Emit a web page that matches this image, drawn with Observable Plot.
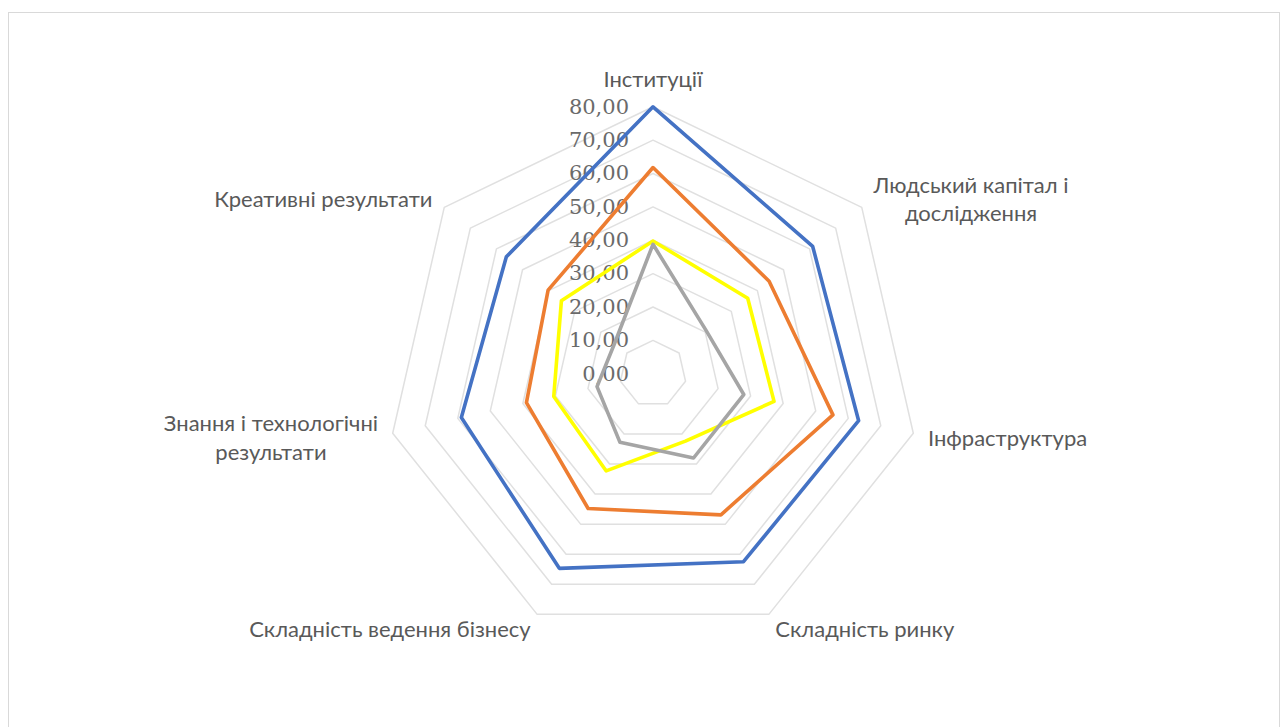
<!DOCTYPE html>
<html>
<head>
<meta charset="utf-8">
<script src="https://cdn.jsdelivr.net/npm/d3@7"></script>
<script src="https://cdn.jsdelivr.net/npm/@observablehq/plot@0.6"></script>
<style>
  html, body { margin: 0; padding: 0; background: #fff; overflow: hidden; }
  #frame { position: absolute; left: 8px; top: 12px; width: 1272px; height: 760px;
           border: 1.5px solid #d9d9d9; box-sizing: border-box; }
  #chart { position: absolute; left: 0; top: 0; }
</style>
</head>
<body>
<div id="frame"></div>
<div id="chart"></div>
<script>
// Pillars of the innovation index, clockwise from the top
const categories = [
  "Інституції",
  "Людський капітал і\nдослідження",
  "Інфраструктура",
  "Складність ринку",
  "Складність ведення бізнесу",
  "Знання і технологічні\nрезультати",
  "Креативні результати"
];

// Scores per pillar for the four compared series
const seriesKeys = ["s1", "s2", "s3", "s4"];
const s1Values = [80.0, 61.2, 63.2, 62.5, 64.7, 58.9, 56.2];
const s2Values = [61.8, 44.5, 55.3, 46.9, 44.8, 38.9, 40.2];
const s3Values = [39.8, 36.3, 37.2, 22.4, 32.3, 30.5, 35.1];
const s4Values = [38.8, 20.5, 27.9, 28.0, 22.8, 17.2, 14.7];
const seriesColors = ["#4472C4", "#ED7D31", "#FFFF00", "#A5A5A5"];

// Radial axis ticks
const tickValues = [0, 10, 20, 30, 40, 50, 60, 70, 80];
const tickLabels = ["0,00", "10,00", "20,00", "30,00", "40,00", "50,00", "60,00", "70,00", "80,00"];

// Layout
const W = 1288, H = 727;
const cx = 652.5, cy = 373.3, R = 267;   // centre and radius of the 80 ring, px
const vMax = 80;
const k = R / vMax;                        // px per unit
const catFont = 22, catLineHeight = 1.3;
const catFontFamily = "Lato";
const labelPad = 15;

const n = categories.length;
const angle = i => (2 * Math.PI * i) / n;
const polar = (v, i) => [v * Math.sin(angle(i)), v * Math.cos(angle(i))];

// Grid rings (heptagons)
const rings = [];
for (const t of tickValues.slice(1)) {
  for (let i = 0; i < n; i++) {
    const [x, y] = polar(t, i);
    rings.push({ level: t, x, y });
  }
}

// Series polygons
const allSeries = [s1Values, s2Values, s3Values, s4Values];
const points = [];
allSeries.forEach((vals, s) => {
  vals.forEach((v, i) => {
    const [x, y] = polar(v, i);
    points.push({ series: seriesKeys[s], x, y, v });
  });
});

// Category labels: placed just outside the outer ring, block-centred
const ctx = document.createElement("canvas").getContext("2d");
ctx.font = `${catFont}px ${catFontFamily}`;
const catLabels = categories.map((label, i) => {
  const lines = label.split("\n");
  const w = Math.max(...lines.map(l => ctx.measureText(l).width));
  const h = lines.length * catLineHeight * catFont;
  const ex = Math.sin(angle(i)), ey = Math.cos(angle(i));
  let px = (R + labelPad) * ex, py = (R + labelPad) * ey;   // px, y up
  if (Math.abs(ex) > 0.1) px += Math.sign(ex) * w / 2;
  if (Math.abs(ey) > 0.95) py += Math.sign(ey) * h / 2;
  return { label, x: px / k, y: py / k };
});

const ticks = tickValues.map((t, i) => ({ y: t, label: tickLabels[i] }));

const chart = Plot.plot({
  width: W,
  height: H,
  margin: 0,
  x: { domain: [-vMax, vMax], range: [cx - R, cx + R], axis: null },
  y: { domain: [-vMax, vMax], range: [cy + R, cy - R], axis: null },
  color: { domain: seriesKeys, range: seriesColors },
  style: { background: "transparent", overflow: "visible" },
  marks: [
    Plot.line(rings, {
      x: "x", y: "y", z: "level",
      curve: "linear-closed",
      stroke: "#e0e0e0", strokeWidth: 1.5
    }),
    Plot.text(ticks, {
      x: () => 0, y: "y", text: "label",
      textAnchor: "end", dx: -24,
      fontFamily: "DejaVu Serif", fontSize: 21,
      fill: "#6a6a6a"
    }),
    Plot.text(catLabels, {
      x: "x", y: "y", text: "label",
      textAnchor: "middle", lineAnchor: "middle",
      lineHeight: catLineHeight,
      fontFamily: catFontFamily, fontSize: catFont,
      fill: "#595959"
    }),
    Plot.line(points, {
      x: "x", y: "y", z: "series",
      stroke: "series",
      curve: "linear-closed",
      strokeWidth: 3.6,
      strokeLinejoin: "round"
    })
  ]
});

document.getElementById("chart").appendChild(chart);
</script>
</body>
</html>
